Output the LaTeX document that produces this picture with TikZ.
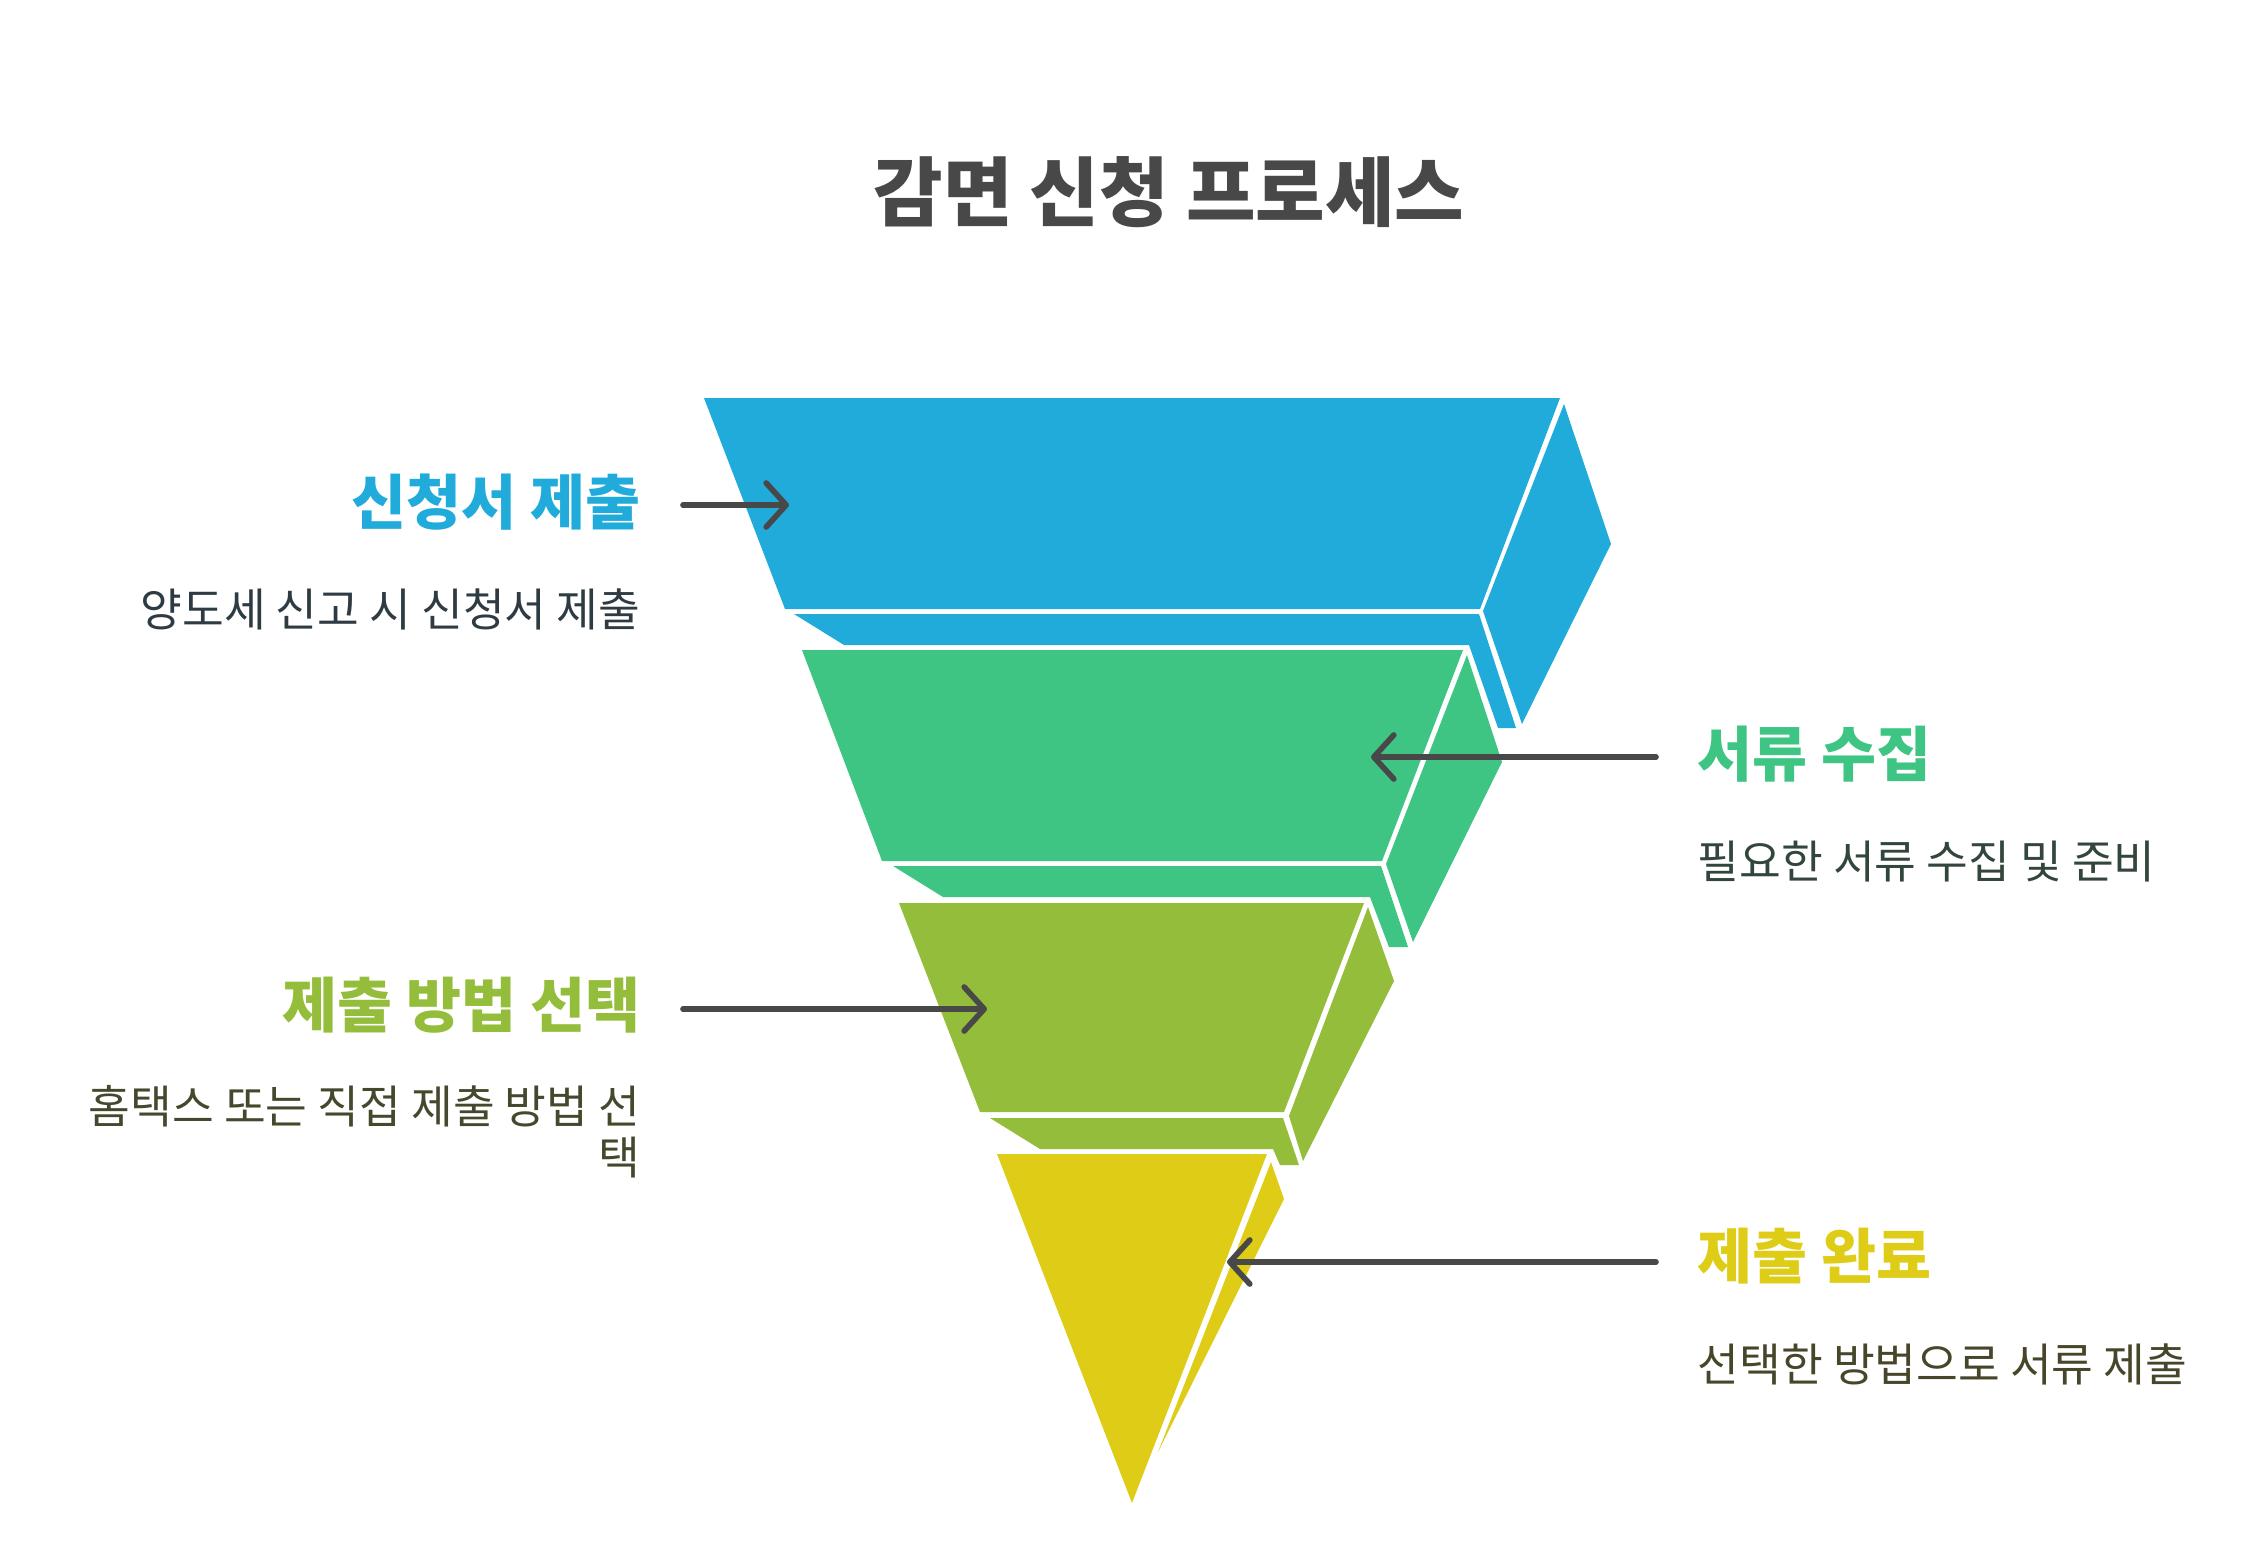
\documentclass[tikz,border=0pt]{standalone}
\usepackage{fontspec}
\setmainfont{Noto Sans CJK KR}
\usetikzlibrary{arrows.meta}
\definecolor{cblue}{HTML}{20ABDB}
\definecolor{cgreen}{HTML}{3EC583}
\definecolor{colive}{HTML}{93BD3A}
\definecolor{cyellow}{HTML}{DECC16}
\definecolor{cdark}{HTML}{484848}
\definecolor{dblue}{HTML}{2E3B42}
\definecolor{dgreen}{HTML}{33463C}
\definecolor{dolive}{HTML}{46482E}
\definecolor{dyellow}{HTML}{48462A}
\tikzset{
  px/.style={x=0.01cm,y=-0.01cm},
  arr/.style={draw=cdark,line width=1.6pt,line cap=round,line join=round,
    -{Straight Barb[length=0.2cm,width=0.44cm,round]}},
  head/.style={font=\bfseries\fontsize{17pt}{20pt}\selectfont,inner sep=0pt},
  desc/.style={font=\fontsize{12.9pt}{14.5pt}\selectfont,inner sep=0pt},
}
\begin{document}
\begin{tikzpicture}[px]
\useasboundingbox (0,0) rectangle (2268,1551);
% blue layer
\fill[cblue] (704,398) -- (1560,398) -- (1480,609) -- (785,609) -- cycle;
\fill[cblue] (1564,404) -- (1611,544) -- (1522,724) -- (1483,611) -- cycle;
\fill[cblue] (794,614) -- (1479,614) -- (1516,728) -- (1498,728) -- (1469,645) -- (844,645) -- cycle;
% green layer
\fill[cgreen] (802,650) -- (1463,650) -- (1382,861) -- (882,861) -- cycle;
\fill[cgreen] (1467,655) -- (1502,762) -- (1413,942) -- (1386,864) -- cycle;
\fill[cgreen] (893,866) -- (1381,866) -- (1408,947) -- (1389,947) -- (1370,897) -- (943,897) -- cycle;
% olive layer
\fill[colive] (899,903) -- (1364,903) -- (1284,1112) -- (980,1112) -- cycle;
\fill[colive] (1368,907) -- (1394,981) -- (1303,1161) -- (1289,1116) -- cycle;
\fill[colive] (990,1118) -- (1283,1118) -- (1299,1165) -- (1280,1165) -- (1273,1149) -- (1040,1149) -- cycle;
% yellow layer
\fill[cyellow] (997,1154) -- (1267,1154) -- (1132,1503) -- cycle;
\fill[cyellow] (1271,1162) -- (1284,1199) -- (1158,1452) -- cycle;

% title
\node[font=\bfseries\fontsize{21.5pt}{25pt}\selectfont,text=cdark,inner sep=0pt] (title) at (1169,192) {감면 신청 프로세스};

% labels
\node[head,text=cblue,anchor=east] (h1) at (641,502) {신청서 제출};
\node[desc,text=dblue,anchor=east] (d1) at (641,609) {양도세 신고 시 신청서 제출};
\node[head,text=cgreen,anchor=west] (h2) at (1697,754) {서류 수집};
\node[desc,text=dgreen,anchor=west] (d2) at (1697,862) {필요한 서류 수집 및 준비};
\node[head,text=colive,anchor=east] (h3) at (641,1005) {제출 방법 선택};
\node[desc,text=dolive,anchor=east,align=right] (d3) at (641,1132) {홈택스 또는 직접 제출 방법 선\\택};
\node[head,text=cyellow,anchor=west] (h4) at (1697,1256) {제출 완료};
\node[desc,text=dyellow,anchor=west] (d4) at (1697,1364) {선택한 방법으로 서류 제출};

% arrows
\coordinate (a1s) at (683,505);
\coordinate (a1e) at (789,505);
\coordinate (a2s) at (1656,757);
\coordinate (a2e) at (1371,757);
\coordinate (a3s) at (683,1009);
\coordinate (a3e) at (987,1009);
\coordinate (a4s) at (1656,1262);
\coordinate (a4e) at (1227,1262);
\draw[arr] (a1s) -- (a1e);
\draw[arr] (a2s) -- (a2e);
\draw[arr] (a3s) -- (a3e);
\draw[arr] (a4s) -- (a4e);
\end{tikzpicture}
\end{document}
